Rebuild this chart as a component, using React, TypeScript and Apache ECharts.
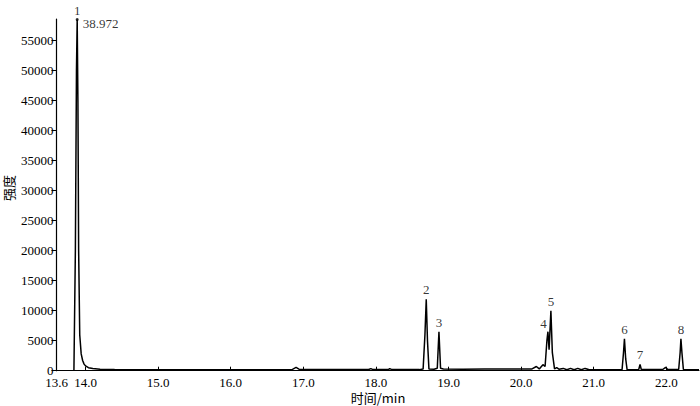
import React, { useEffect, useRef } from "react";
import * as echarts from "echarts";

// Chromatogram trace: retention time (min) and intensity
const times = [
  13.84, 13.86, 13.875, 13.885, 13.895, 13.905, 13.92, 13.94, 13.96, 13.98, 14.0, 14.04, 14.1, 14.2, 14.4, 14.6, 15.0,
  15.5, 16.0, 16.5, 16.85, 16.9, 16.94, 17.0, 17.5, 17.9, 17.93, 17.96, 18.17, 18.19, 18.22, 18.6, 18.65, 18.675,
  18.693, 18.71, 18.73, 18.8, 18.845, 18.868, 18.89, 18.93, 19.2, 19.5, 20.0, 20.15, 20.21, 20.25, 20.3, 20.33,
  20.355, 20.369, 20.385, 20.41, 20.43, 20.46, 20.49, 20.52, 20.58, 20.63, 20.68, 20.73, 20.78, 20.83, 20.88, 20.93,
  21.0, 21.39, 21.41, 21.423, 21.44, 21.46, 21.62, 21.638, 21.655, 21.95, 21.99, 22.02, 22.17, 22.19, 22.201, 22.215,
  22.235, 22.45,
];
const intensity = [
  0, 20000, 50000, 58500, 45000, 20000, 6000, 2800, 1700, 1100, 800, 500, 350, 250, 180, 150, 150,
  150, 150, 170, 220, 550, 250, 200, 180, 200, 350, 180, 180, 350, 180, 180, 300, 6000,
  11900, 5000, 300, 250, 400, 6500, 400, 300, 250, 300, 300, 300, 700, 300, 1000, 700,
  5000, 6500, 3500, 10000, 3000, 300, 500, 250, 380, 150, 380, 150, 380, 150, 380, 200,
  150, 150, 3000, 5300, 2000, 150, 200, 1050, 200, 200, 550, 200, 200, 3000, 5300, 3000,
  200, 150,
];

// Peak annotations
const peakNames = ["1", "2", "3", "4", "5", "6", "7", "8"];
const peakTimes = [13.885, 18.693, 18.868, 20.369, 20.41, 21.423, 21.638, 22.201];
const peakHeights = [58500, 11900, 6500, 6500, 10000, 5300, 1050, 5300];
const peak1Note = "38.972";

const xTickValues = [13.6, 14, 15, 16, 17, 18, 19, 20, 21, 22];
const xInnerTicks = [14, 15, 16, 17, 18, 19, 20, 21, 22];
const yTickValues = [0, 5000, 10000, 15000, 20000, 25000, 30000, 35000, 40000, 45000, 50000, 55000];
const xAxisTitle = "时间/min";
const yAxisTitle = "强度";

const serif = "'Liberation Serif', 'Times New Roman', serif";
const cjk = "'Noto Sans CJK SC', sans-serif";

export default function App() {
  const ref = useRef<HTMLDivElement>(null);
  useEffect(() => {
    const chart = echarts.init(ref.current!, null, { renderer: "svg" });
    const lineData = times.map((t, i) => [t, intensity[i]]);
    const peakData = peakTimes.map((t, i) => ({
      value: [t, peakHeights[i]],
      label: {
        show: true,
        formatter: peakNames[i],
        position: i === 3 ? "left" : "top",
        distance: i === 3 ? 1 : 3,
        offset: i === 3 ? [0, -8] : [0, 0],
        color: "#000",
        fontFamily: serif,
        fontSize: 13,
      },
    }));
    chart.setOption({
      animation: false,
      backgroundColor: "#fff",
      grid: { left: 56.5, right: 1, top: 19, bottom: 35.3, containLabel: false, outerBoundsMode: "none" },
      graphic: [
        {
          type: "text",
          x: 378,
          y: 397.5,
          style: {
            text: xAxisTitle,
            fontFamily: cjk,
            fontSize: 13,
            fill: "#000",
            align: "center",
            verticalAlign: "middle",
          },
        },
        {
          type: "text",
          x: 8.5,
          y: 188,
          rotation: Math.PI / 2,
          style: {
            text: yAxisTitle,
            fontFamily: cjk,
            fontSize: 13,
            fill: "#000",
            align: "center",
            verticalAlign: "middle",
          },
        },
      ],
      xAxis: {
        type: "value",
        min: 13.6,
        max: 22.45,
        axisLine: { show: true, onZero: false, lineStyle: { color: "#000", width: 1.2 } },
        axisTick: { show: true, inside: true, length: 4, customValues: xInnerTicks, lineStyle: { color: "#000" } },
        axisLabel: {
          customValues: xTickValues,
          formatter: (v: number) => v.toFixed(1),
          fontFamily: serif,
          fontSize: 13,
          lineHeight: 11,
          color: "#000",
          margin: 6.5,
        },
        splitLine: { show: false },
      },
      yAxis: {
        type: "value",
        min: 0,
        max: 58600,
        axisLine: { show: true, lineStyle: { color: "#000", width: 1.2 } },
        axisTick: { show: true, length: 5, customValues: yTickValues, lineStyle: { color: "#000" } },
        axisLabel: {
          customValues: yTickValues,
          formatter: (v: number) => String(v),
          fontFamily: serif,
          fontSize: 13,
          lineHeight: 11,
          color: "#000",
          margin: 3,
        },
        splitLine: { show: false },
      },
      series: [
        {
          type: "line",
          data: lineData,
          showSymbol: false,
          lineStyle: { color: "#000", width: 1.5 },
          silent: true,
        },
        {
          type: "scatter",
          data: peakData,
          symbolSize: 0.1,
          itemStyle: { color: "#000" },
          silent: true,
        },
        {
          type: "scatter",
          data: [
            {
              value: [peakTimes[0], peakHeights[0]],
              label: {
                show: true,
                formatter: peak1Note,
                position: "right",
                distance: 4,
                offset: [0, 4],
                color: "#000",
                fontFamily: serif,
                fontSize: 13,
              },
            },
          ],
          symbolSize: 3,
          itemStyle: { color: "#000" },
          silent: true,
        },
      ],
    });
    return () => chart.dispose();
  }, []);
  return (
    <div
      ref={ref}
      style={{ position: "fixed", left: 0, top: 0, width: 700, height: 406, background: "#fff" }}
    />
  );
}
